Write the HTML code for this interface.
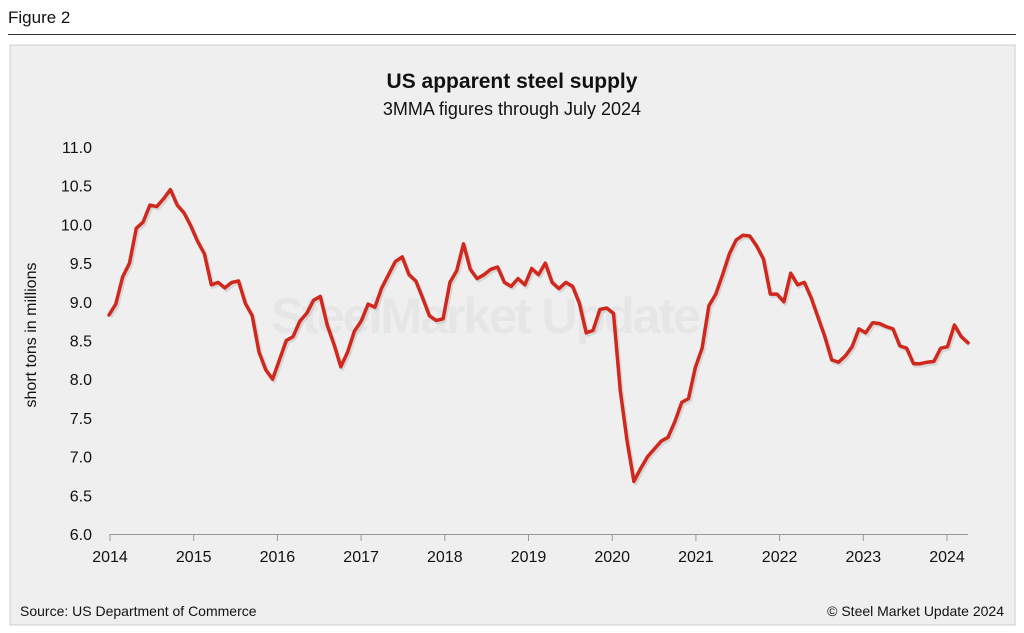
<!DOCTYPE html>
<html><head><meta charset="utf-8"><style>
body{margin:0;background:#fff;font-family:"Liberation Sans",Arial,sans-serif;}
</style></head><body>
<div style="position:relative;width:1024px;height:633px;overflow:hidden;background:#fff">
<div style="position:absolute;left:8px;top:8px;font-size:17px;color:#111">Figure 2</div>
<div style="position:absolute;left:8px;top:34px;width:1008px;height:1px;background:#333"></div>
<svg id="chart" width="1024" height="633" style="position:absolute;left:0;top:0" xmlns="http://www.w3.org/2000/svg"></svg>
</div>
<script>
const years=['2014','2015','2016','2017','2018','2019','2020','2021','2022','2023','2024'];
const yTicks=[6.0,6.5,7.0,7.5,8.0,8.5,9.0,9.5,10.0,10.5,11.0];
const supply=[
8.83,8.97,9.32,9.5,9.95,10.03,10.25,10.23,10.33,10.45,10.25,10.15,
9.98,9.78,9.62,9.22,9.25,9.18,9.25,9.27,8.98,8.82,8.35,8.12,
8.0,8.25,8.5,8.55,8.75,8.85,9.02,9.07,8.7,8.45,8.16,8.35,
8.62,8.75,8.97,8.93,9.18,9.35,9.52,9.58,9.35,9.27,9.05,8.82,
8.76,8.78,9.25,9.4,9.75,9.42,9.3,9.35,9.42,9.45,9.25,9.2,
9.3,9.22,9.43,9.35,9.5,9.25,9.17,9.25,9.2,8.98,8.6,8.63,
8.9,8.92,8.85,7.85,7.2,6.68,6.85,7.0,7.1,7.2,7.25,7.45,
7.7,7.75,8.15,8.4,8.95,9.1,9.35,9.62,9.8,9.86,9.85,9.72,
9.55,9.1,9.1,9.0,9.37,9.22,9.25,9.05,8.8,8.55,8.25,8.22,
8.3,8.42,8.65,8.6,8.73,8.72,8.68,8.65,8.43,8.4,8.2,8.2,
8.22,8.23,8.4,8.42,8.7,8.55,8.47];
const svg=document.getElementById('chart');
const NS='http://www.w3.org/2000/svg';
function mk(t,a,txt){const e=document.createElementNS(NS,t);for(const k in a)e.setAttribute(k,a[k]);if(txt!=null)e.textContent=txt;svg.appendChild(e);return e;}
const x0=109,x1=968;
function xM(m){return x0+m*(x1-x0)/(supply.length-1);}
function xLab(i){return 110+i*(947-110)/(years.length-1);}
function yV(v){return 534-(v-6)*(534-147)/5;}
let e;
e=mk('rect',{x:10,y:45,width:1005,height:580,fill:'#efefef',stroke:'#ccc'});


e=mk('text',{x:485,y:333,'font-size':50,'font-weight':'bold',fill:'#e6e6e6','text-anchor':'middle','letter-spacing':'-2'},'SteelMarket Update');


e=mk('text',{x:512,y:88,'font-size':21,'font-weight':'bold','text-anchor':'middle',fill:'#111'},'US apparent steel supply');


e=mk('text',{x:512,y:115,'font-size':18,'text-anchor':'middle',fill:'#111'},'3MMA figures through July 2024');


yTicks.forEach(v=>{e=mk('text',{x:92,y:yV(v)+6,'font-size':16,'text-anchor':'end',fill:'#111'},v.toFixed(1));

});
e=mk('text',{x:36,y:335,'font-size':16,'text-anchor':'middle',fill:'#111',transform:'rotate(-90 36 335)'},'short tons in millions');


e=mk('line',{x1:110,x2:968,y1:534.5,y2:534.5,stroke:'#999','stroke-width':1});


years.forEach((y,i)=>{const x=xLab(i);
e=mk('line',{x1:x,x2:x,y1:534,y2:541,stroke:'#999'});


e=mk('text',{x:x,y:562,'font-size':16,'text-anchor':'middle',fill:'#111'},y);

});
const pts=supply.map((v,i)=>xM(i).toFixed(1)+','+yV(v).toFixed(1)).join(' ');
e=mk('polyline',{points:pts,fill:'none',stroke:'#aaa','stroke-width':4,opacity:0.35,transform:'translate(1.5,2)','stroke-linejoin':'round'});


e=mk('polyline',{points:pts,fill:'none',stroke:'#d0281c','stroke-width':3.5,'stroke-linejoin':'round','stroke-linecap':'round'});


e=mk('text',{x:20,y:616,'font-size':14,fill:'#111'},'Source: US Department of Commerce');


e=mk('text',{x:1004,y:616,'font-size':14,'text-anchor':'end',fill:'#111'},'© Steel Market Update 2024');


</script>
</body></html>
